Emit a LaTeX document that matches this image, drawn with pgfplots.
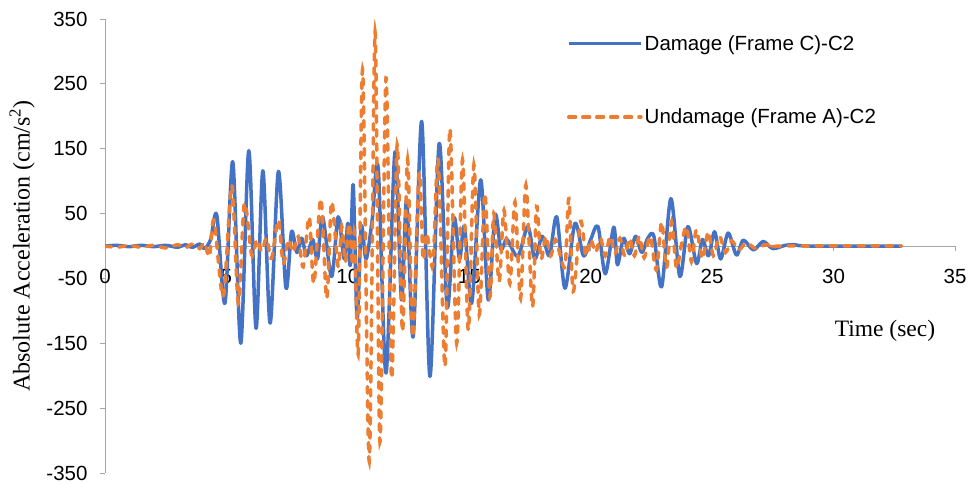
\documentclass[border=0pt]{standalone}
\usepackage{pgfplots}
\pgfplotsset{compat=1.18}
\usepackage{fontspec}
\setmainfont{Liberation Sans}
\newfontfamily\seriffont{Liberation Serif}
\definecolor{exblue}{HTML}{4472C4}
\definecolor{exorange}{HTML}{ED7D31}
\definecolor{axgray}{HTML}{A6A6A6}
\begin{document}
\begin{tikzpicture}
\useasboundingbox (0,0) rectangle (971pt,484pt);
\begin{axis}[
  at={(105pt,11pt)}, anchor=south west,
  width=850pt, height=454pt, scale only axis,
  xmin=0, xmax=35, ymin=-350, ymax=350,
  axis x line=middle, axis y line=left,
  axis line style={-, draw=axgray, line width=0.9pt},
  hide obscured x ticks=false,
  xtick={0,5,...,35}, ytick={-350,-250,...,350},
  tick style={draw=axgray, line width=0.9pt},
  tick align=outside, major tick length=5pt,
  /pgf/number format/assume math mode=true,
  tick label style={font=\fontsize{20.5}{24}\selectfont},
  xticklabel style={anchor=north, yshift=-15pt},
  yticklabel style={anchor=east, xshift=-9pt},
  xlabel={\seriffont Time (sec)},
  xlabel style={at={(axis description cs:0.9176,0.3128)}, anchor=center, font=\fontsize{23.5}{26}\selectfont},
  ylabel={\seriffont Absolute Acceleration (cm/s\textsuperscript{2})},
  ylabel style={at={(axis description cs:-0.0976,0.5)}, anchor=center, font=\fontsize{24}{26}\selectfont},
  legend style={at={(axis description cs:0.540,0.973)}, anchor=north west, draw=none, fill=none,
    font=\fontsize{20.5}{24}\selectfont, row sep=53pt},
  legend cell align=left,
  legend image code/.code={\path (0pt,0pt) -- (72pt,0pt);\draw[#1] (0pt,0pt) -- (68pt,0pt);},
]
\addplot[exblue, line width=3.5pt, smooth, line join=round] coordinates {
(0,0) (0.5,1) (1.0,-1) (1.5,1) (2.0,-1) (2.5,1) (3.0,-2) (3.3,2) (3.6,-2) (3.9,3) (4.1,-4) (4.35,10)
(4.6,48) (4.94,-88) (5.26,130) (5.59,-150) (5.92,147) (6.22,-127) (6.5,116) (6.8,-119) (7.14,115)
(7.45,-65) (7.68,22) (7.9,-10) (8.1,12) (8.3,-15) (8.55,10) (8.75,-20) (8.96,45) (9.33,-47) (9.6,45)
(9.85,-20) (10.0,35) (10.1,-30) (10.22,94) (10.38,-112) (10.55,30) (10.75,-20) (11.0,40) (11.25,120)
(11.57,-196) (11.94,145) (12.21,-83) (12.42,71) (12.69,-140) (13.04,192) (13.38,-201) (13.76,158)
(14.09,-94) (14.37,43) (14.6,-20) (14.8,30) (15.1,-88) (15.47,102) (15.78,-83) (16.06,48) (16.3,-5)
(16.55,10) (17.0,-16) (17.41,30) (17.7,-20) (18.0,15) (18.3,-15) (18.6,45) (18.94,-65) (19.35,35)
(19.7,-15) (20.0,10) (20.3,30) (20.6,-43) (20.95,29) (21.1,-29) (21.35,12) (21.6,-12) (21.85,15)
(22.1,-10) (22.35,12) (22.6,15) (22.92,-63) (23.3,73) (23.67,-47) (24.0,30) (24.36,-27) (24.6,10)
(24.85,-15) (25.1,22) (25.35,-20) (25.66,20) (26.0,-14) (26.28,9) (26.7,-6) (27.1,7) (27.5,-4)
(28.0,1) (28.4,2) (29,0) (32.8,0)
};
\addlegendentry{Damage (Frame C)-C2}
\addplot[exorange, line width=3.5pt, smooth, line cap=round, dash pattern=on 6.5pt off 7.5pt] coordinates {
(0,0) (0.5,-2) (1.0,1) (1.5,-2) (2.0,1) (2.5,-3) (3.0,2) (3.3,-3) (3.6,3) (3.9,-4) (4.1,5) (4.3,-16)
(4.49,40) (4.87,-78) (5.22,94) (5.49,-88) (5.74,66) (6.04,-14) (6.25,10) (6.45,-8) (6.65,12) (6.86,-19)
(7.14,40) (7.34,-27) (7.55,10) (7.75,-10) (7.95,15) (8.16,-32) (8.41,45) (8.6,-58) (8.89,73) (9.13,-81)
(9.33,68) (9.6,-32) (9.75,30) (9.9,-25) (10.05,35) (10.2,-30) (10.28,20) (10.43,-163) (10.61,271)
(10.88,-332) (11.12,330) (11.32,-302) (11.57,259) (11.8,-204) (12.03,156) (12.25,-132) (12.46,133)
(12.67,-140) (12.93,112) (13.1,-20) (13.25,20) (13.5,-30) (13.72,133) (14.0,-186) (14.2,181)
(14.48,-150) (14.72,133) (14.96,-130) (15.19,125) (15.41,-106) (15.64,81) (15.85,-78) (16.01,50)
(16.23,-55) (16.43,55) (16.67,-58) (16.88,68) (17.11,-81) (17.33,94) (17.6,-94) (17.77,61) (17.95,-20)
(18.15,15) (18.35,-15) (18.55,10) (18.75,-15) (18.95,-30) (19.1,73) (19.28,-70) (19.58,38) (19.8,-15)
(20.0,10) (20.2,-10) (20.4,12) (20.6,-15) (20.8,15) (21.0,-12) (21.2,12) (21.4,-15) (21.6,12) (21.8,-15)
(22.0,15) (22.2,-18) (22.45,15) (22.7,-37) (22.92,37) (23.12,-34) (23.33,37) (23.53,-34) (23.75,5)
(23.95,30) (24.15,-24) (24.35,25) (24.6,-20) (24.84,22) (25.05,-15) (25.3,15) (25.55,-10) (25.8,8)
(26.1,-6) (26.4,5) (26.8,-4) (27.2,2) (27.6,-1) (28,0) (32.8,0)
};
\addlegendentry{Undamage (Frame A)-C2}
\end{axis}
\end{tikzpicture}
\end{document}
